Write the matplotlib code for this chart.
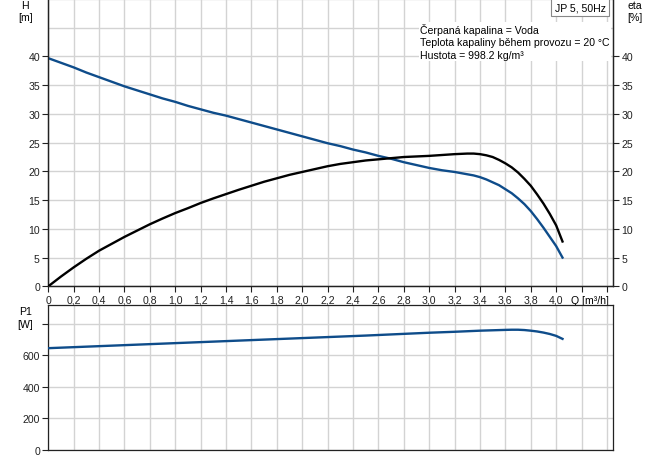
import matplotlib.pyplot as plt
import numpy as np

plt.rcParams['font.family'] = ['Liberation Sans', 'DejaVu Sans']
plt.rcParams['font.size'] = 7.6

# Q-H krivka
q_h = [0, 0.1, 0.2, 0.3, 0.4, 0.5, 0.6, 0.7, 0.8, 0.9, 1.0, 1.1, 1.2, 1.3, 1.4,
       1.5, 1.6, 1.7, 1.8, 1.9, 2.0, 2.1, 2.2, 2.3, 2.4, 2.5, 2.6, 2.7, 2.8,
       2.9, 3.0, 3.1, 3.2, 3.3, 3.35, 3.4, 3.45, 3.5, 3.55, 3.6, 3.65, 3.7,
       3.75, 3.8, 3.85, 3.9, 3.95, 4.0, 4.05]
head = [39.7, 38.9, 38.1, 37.2, 36.4, 35.6, 34.8, 34.1, 33.4, 32.7, 32.1, 31.4,
        30.8, 30.2, 29.7, 29.1, 28.5, 27.9, 27.3, 26.7, 26.1, 25.5, 24.9, 24.4,
        23.8, 23.3, 22.7, 22.2, 21.6, 21.1, 20.6, 20.2, 19.9, 19.5, 19.3, 19.0,
        18.6, 18.1, 17.6, 16.9, 16.2, 15.3, 14.3, 13.1, 11.7, 10.2, 8.6, 7.0, 5.0]

# ucinnost
q_eta = q_h
eta = [0, 1.7, 3.3, 4.8, 6.2, 7.4, 8.6, 9.7, 10.8, 11.8, 12.75, 13.6, 14.5,
       15.3, 16.05, 16.8, 17.5, 18.2, 18.8, 19.4, 19.9, 20.4, 20.9, 21.3, 21.6,
       21.9, 22.1, 22.3, 22.5, 22.6, 22.7, 22.85, 23.0, 23.1, 23.1, 23.0, 22.8,
       22.5, 22.0, 21.4, 20.7, 19.8, 18.7, 17.5, 16.0, 14.4, 12.6, 10.6, 7.8]

# prikon P1
q_p = [0, 0.5, 1.0, 1.5, 2.0, 2.5, 3.0, 3.2, 3.4, 3.6, 3.65, 3.7, 3.75, 3.8,
       3.85, 3.9, 3.95, 4.0, 4.05]
power = [646, 662, 678, 694, 710, 726, 744, 750, 757, 762, 763, 763, 761, 757,
         752, 745, 736, 724, 705]

x_ticks = np.round(np.arange(0, 4.41, 0.2), 1)
x_labels = [('%.1f' % v).replace('.', ',') if v <= 4.0 else '' for v in x_ticks]
x_labels[0] = '0'

blue = '#0e4c8a'
grid_col = '#d3d3d3'

fig = plt.figure(figsize=(6.56, 4.60), dpi=100)
ax = fig.add_axes([0.0736, 0.3754, 0.8613, 0.6246])
ax2 = ax.twinx()
axp = fig.add_axes([0.0736, 0.0196, 0.8613, 0.3152])

for a in (ax, ax2, axp):
    a.set_xlim(0, 4.45)
    for s in a.spines.values():
        s.set_color('#222222')
        s.set_linewidth(0.9)
    a.tick_params(length=4, width=0.8, pad=2, colors='#222222')

ax.set_ylim(0, 50)
ax2.set_ylim(0, 50)
ax.set_xticks(x_ticks)
ax.set_xticklabels(x_labels)
ax.set_yticks(np.arange(0, 41, 5))
ax.set_yticks([45, 50], minor=True)
ax.tick_params(which='minor', length=0)
ax.grid(True, which='both', color=grid_col, linewidth=1)
ax.set_axisbelow(True)
ax.spines['top'].set_visible(False)
ax2.spines['top'].set_visible(False)
ax2.set_yticks(np.arange(0, 41, 5))

ax.plot(q_h, head, color=blue, linewidth=1.7, zorder=3)
ax2.plot(q_eta, eta, color='black', linewidth=1.7, zorder=3)

ax.annotate('Q [m³/h]', xy=(4.12, 0), xycoords=('data', 'axes fraction'),
            xytext=(0, -6), textcoords='offset points', ha='left', va='top')
ax.text(-0.18, 48.9, 'H', ha='center', va='center', clip_on=False)
ax.text(-0.18, 46.8, '[m]', ha='center', va='center', clip_on=False)
ax.text(4.62, 48.9, 'eta', ha='center', va='center', clip_on=False)
ax.text(4.62, 46.8, '[%]', ha='center', va='center', clip_on=False)

ax.text(4.39, 48.6, 'JP 5, 50Hz', ha='right', va='center',
        bbox=dict(boxstyle='square,pad=0.35', facecolor='white',
                  edgecolor='#888888', linewidth=0.8), zorder=5)
info = 'Čerpaná kapalina = Voda\nTeplota kapaliny během provozu = 20 °C\nHustota = 998.2 kg/m³'
ax.text(2.93, 45.9, info, ha='left', va='top', linespacing=1.35, zorder=5,
        bbox=dict(boxstyle='square,pad=0.1', facecolor='white', edgecolor='none'))

axp.set_ylim(0, 920)
axp.set_xticks(x_ticks)
axp.set_xticklabels([])
axp.tick_params(axis='x', length=0)
axp.set_yticks([0, 200, 400, 600, 800])
axp.set_yticklabels(['0', '200', '400', '600', ''])
axp.grid(True, color=grid_col, linewidth=1)
axp.set_axisbelow(True)
axp.plot(q_p, power, color=blue, linewidth=1.7, zorder=3)
axp.text(-0.18, 880, 'P1', ha='center', va='center', clip_on=False)
axp.text(-0.18, 800, '[W]', ha='center', va='center', clip_on=False)

fig.savefig('out.png', dpi=100)
